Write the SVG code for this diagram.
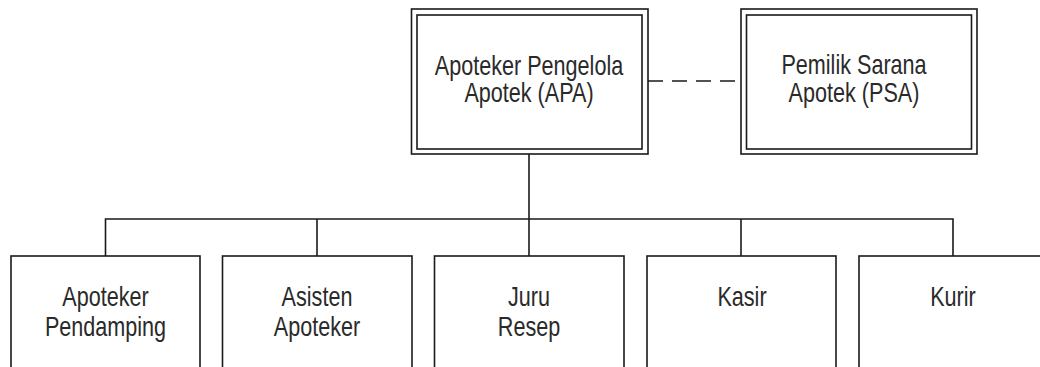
<svg xmlns="http://www.w3.org/2000/svg" width="1040" height="367" viewBox="0 0 1040 367">
<style>
.box{fill:#fff;stroke:#1a1a1a;stroke-width:1.6}
.ln{fill:none;stroke:#1a1a1a;stroke-width:1.6}
.t{font-family:"Liberation Sans",Arial,sans-serif;font-size:27px;fill:#2a2a2a;text-anchor:middle}
</style>
<rect width="1040" height="367" fill="#fff"/>
<g id="connectors">
<line class="ln" x1="648" y1="81" x2="741" y2="81" stroke-dasharray="15 9" stroke-width="2"/>
<line class="ln" x1="529" y1="154" x2="529" y2="219" stroke-width="2.6"/>
<polyline class="ln" points="105.5,256 105.5,219 953,219 953,256"/>
<line class="ln" x1="317" y1="219" x2="317" y2="256"/>
<line class="ln" x1="529" y1="219" x2="529" y2="256"/>
<line class="ln" x1="741" y1="219" x2="741" y2="256"/>
</g>
<g id="apa">
<rect class="box" x="411.5" y="9" width="236.5" height="145"/>
<rect class="box" x="417" y="15" width="225" height="134"/>
<text class="t" transform="translate(529,75) scale(0.8,1)">Apoteker Pengelola</text>
<text class="t" transform="translate(529,102) scale(0.8,1)">Apotek (APA)</text>
</g>
<g id="psa">
<rect class="box" x="741" y="9" width="236" height="145"/>
<rect class="box" x="746.5" y="15" width="225" height="134"/>
<text class="t" transform="translate(854,74) scale(0.8,1)">Pemilik Sarana</text>
<text class="t" transform="translate(854,102) scale(0.8,1)">Apotek (PSA)</text>
</g>
<g id="apoteker-pendamping">
<rect class="box" x="11" y="256" width="189" height="130"/>
<text class="t" transform="translate(105.5,306) scale(0.8,1)">Apoteker</text>
<text class="t" transform="translate(105.5,336) scale(0.8,1)">Pendamping</text>
</g>
<g id="asisten-apoteker">
<rect class="box" x="222.5" y="256" width="189.5" height="130"/>
<text class="t" transform="translate(317,306) scale(0.8,1)">Asisten</text>
<text class="t" transform="translate(317,336) scale(0.8,1)">Apoteker</text>
</g>
<g id="juru-resep">
<rect class="box" x="434.5" y="256" width="189.5" height="130"/>
<text class="t" transform="translate(529,306) scale(0.8,1)">Juru</text>
<text class="t" transform="translate(529,336) scale(0.8,1)">Resep</text>
</g>
<g id="kasir">
<rect class="box" x="647" y="256" width="189" height="130"/>
<text class="t" transform="translate(742,306) scale(0.8,1)">Kasir</text>
</g>
<g id="kurir">
<rect class="box" x="859" y="256" width="190" height="130"/>
<text class="t" transform="translate(953,306) scale(0.8,1)">Kurir</text>
</g>
</svg>
